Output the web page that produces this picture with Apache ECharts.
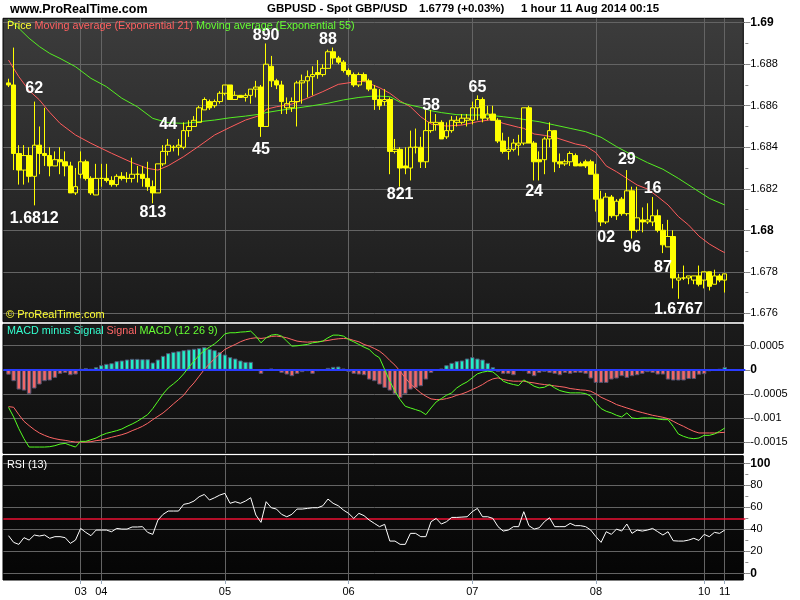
<!DOCTYPE html>
<html><head><meta charset="utf-8">
<script src="https://cdn.jsdelivr.net/npm/echarts@6/dist/echarts.min.js"></script>
<style>html,body{margin:0;padding:0;background:#fff}#c{width:800px;height:600px}</style>
</head><body><div id="c"></div><script>
// ================= DATA =================
const barCount = 140;
const dayLabels   = ['03','04','05','06','07','08','10','11'];
const dayStartBar = [14, 18, 42, 66, 90, 114, 135, 139];

// hourly candles: [open, close, low, high]
const candles = [
[1.6871,1.6870,1.6869,1.6873],[1.6870,1.6837,1.6829,1.6888],[1.6837,1.6829,1.6822,1.6841],[1.6829,1.6836,1.6822,1.6841],[1.6836,1.6826,1.6823,1.6840],
[1.6826,1.6841,1.6812,1.6862],[1.6841,1.6837,1.6827,1.6850],[1.6837,1.6836,1.6831,1.6859],[1.6836,1.6831,1.6826,1.6840],[1.6831,1.6834,1.6831,1.6838],
[1.6834,1.6833,1.6827,1.6840],[1.6833,1.6831,1.6826,1.6838],[1.6831,1.6818,1.6818,1.6833],[1.6818,1.6821,1.6817,1.6830],[1.6827,1.6833,1.6825,1.6838],
[1.6833,1.6825,1.6824,1.6834],[1.6825,1.6818,1.6817,1.6826],[1.6817,1.6825,1.6817,1.6832],[1.6825,1.6825,1.6821,1.6832],[1.6825,1.6824,1.6823,1.6832],
[1.6824,1.6822,1.6821,1.6826],[1.6822,1.6826,1.6821,1.6827],[1.6826,1.6825,1.6824,1.6828],[1.6825,1.6825,1.6823,1.6828],[1.6825,1.6827,1.6823,1.6835],
[1.6827,1.6827,1.6823,1.6831],[1.6827,1.6825,1.6821,1.6831],[1.6825,1.6821,1.6819,1.6833],[1.6821,1.6818,1.6813,1.6824],[1.6818,1.6832,1.6818,1.6832],
[1.6832,1.6838,1.6831,1.6841],[1.6838,1.6841,1.6836,1.6844],[1.6840,1.6840,1.6838,1.6841],[1.6840,1.6841,1.6836,1.6844],[1.6840,1.6848,1.6839,1.6852],
[1.6848,1.6850,1.6845,1.6853],[1.6850,1.6853,1.6850,1.6855],[1.6852,1.6859,1.6852,1.6860],[1.6858,1.6863,1.6858,1.6864],[1.6862,1.6859,1.6858,1.6863],
[1.6860,1.6862,1.6859,1.6863],[1.6862,1.6866,1.6861,1.6867],[1.6866,1.6870,1.6865,1.6870],[1.6870,1.6863,1.6863,1.6870],[1.6863,1.6865,1.6863,1.6867],
[1.6865,1.6864,1.6864,1.6865],[1.6864,1.6865,1.6862,1.6866],[1.6865,1.6868,1.6861,1.6868],[1.6868,1.6869,1.6864,1.6872],[1.6869,1.6850,1.6845,1.6870],
[1.6850,1.6880,1.6850,1.6890],[1.6879,1.6872,1.6869,1.6884],[1.6872,1.6870,1.6868,1.6873],[1.6870,1.6862,1.6856,1.6872],[1.6859,1.6861,1.6856,1.6864],
[1.6859,1.6862,1.6857,1.6864],[1.6862,1.6871,1.6850,1.6872],[1.6871,1.6872,1.6861,1.6875],[1.6872,1.6874,1.6864,1.6877],[1.6874,1.6875,1.6865,1.6879],
[1.6876,1.6875,1.6873,1.6882],[1.6875,1.6878,1.6874,1.6880],[1.6878,1.6886,1.6878,1.6887],[1.6886,1.6883,1.6880,1.6888],[1.6883,1.6881,1.6880,1.6884],
[1.6881,1.6877,1.6876,1.6882],[1.6877,1.6875,1.6874,1.6878],[1.6875,1.6870,1.6869,1.6876],[1.6870,1.6875,1.6869,1.6876],[1.6875,1.6872,1.6872,1.6876],
[1.6872,1.6868,1.6867,1.6873],[1.6868,1.6863,1.6858,1.6870],[1.6863,1.6860,1.6858,1.6868],[1.6862,1.6863,1.6860,1.6868],[1.6863,1.6838,1.6827,1.6864],
[1.6838,1.6839,1.6837,1.6844],[1.6839,1.6830,1.6821,1.6840],[1.6831,1.6830,1.6827,1.6840],[1.6830,1.6840,1.6824,1.6848],[1.6840,1.6840,1.6837,1.6849],
[1.6840,1.6833,1.6830,1.6845],[1.6833,1.6848,1.6830,1.6858],[1.6848,1.6852,1.6847,1.6858],[1.6851,1.6852,1.6848,1.6856],[1.6852,1.6844,1.6844,1.6853],
[1.6845,1.6848,1.6844,1.6852],[1.6848,1.6853,1.6847,1.6855],[1.6852,1.6853,1.6850,1.6855],[1.6852,1.6854,1.6851,1.6856],[1.6853,1.6854,1.6850,1.6856],
[1.6853,1.6859,1.6851,1.6862],[1.6859,1.6863,1.6853,1.6865],[1.6863,1.6854,1.6852,1.6864],[1.6854,1.6856,1.6853,1.6860],[1.6856,1.6853,1.6853,1.6860],
[1.6853,1.6843,1.6842,1.6854],[1.6843,1.6838,1.6837,1.6847],[1.6838,1.6839,1.6834,1.6845],[1.6839,1.6842,1.6838,1.6844],[1.6841,1.6842,1.6836,1.6846],
[1.6842,1.6859,1.6841,1.6859],[1.6859,1.6842,1.6842,1.6860],[1.6842,1.6833,1.6824,1.6843],[1.6834,1.6833,1.6824,1.6838],[1.6834,1.6844,1.6827,1.6845],
[1.6844,1.6848,1.6840,1.6852],[1.6848,1.6833,1.6828,1.6848],[1.6833,1.6832,1.6830,1.6837],[1.6832,1.6833,1.6831,1.6834],[1.6833,1.6837,1.6831,1.6838],
[1.6836,1.6831,1.6831,1.6837],[1.6832,1.6831,1.6831,1.6833],[1.6833,1.6831,1.6830,1.6834],[1.6833,1.6827,1.6827,1.6834],[1.6827,1.6815,1.6809,1.6832],
[1.6815,1.6804,1.6802,1.6819],[1.6804,1.6816,1.6803,1.6818],[1.6816,1.6807,1.6806,1.6817],[1.6807,1.6814,1.6805,1.6815],[1.6815,1.6808,1.6807,1.6816],
[1.6808,1.6819,1.6807,1.6829],[1.6819,1.6800,1.6796,1.6821],[1.6800,1.6806,1.6799,1.6821],[1.6805,1.6804,1.6799,1.6811],[1.6804,1.6805,1.6803,1.6813],
[1.6804,1.6807,1.6802,1.6816],[1.6807,1.6800,1.6799,1.6810],[1.6800,1.6793,1.6789,1.6803],[1.6792,1.6797,1.6792,1.6805],[1.6797,1.6777,1.6772,1.6800],
[1.6776,1.6777,1.6767,1.6779],[1.6777,1.6777,1.6776,1.6783],[1.6777,1.6778,1.6774,1.6778],[1.6776,1.6778,1.6774,1.6778],[1.6778,1.6774,1.6773,1.6783],
[1.6776,1.6780,1.6772,1.6780],[1.6780,1.6773,1.6771,1.6780],[1.6774,1.6778,1.6774,1.6781],[1.6778,1.6776,1.6775,1.6779],[1.6776,1.6779,1.6770,1.6779]
];

// Exponential moving averages read at these bars
const ema21Bar = [0,2,4,6,8,10,13,16,20,24,27,29,31,34,37,40,43,46,49,50,52,55,58,61,64,67,69,72,74,76,78,80,82,85,88,91,94,96,99,100,102,104,106,108,110,112,114,116,118,120,122,124,126,128,130,132,134,136,138,139];
const ema21Val = [1.68820,1.68740,1.68673,1.68628,1.68568,1.68515,1.68459,1.68419,1.68371,1.68326,1.68298,1.68290,1.68311,1.68355,1.68406,1.68459,1.68496,1.68531,1.68555,1.68583,
1.68595,1.68608,1.68636,1.68668,1.68703,1.68714,1.68718,1.68687,1.68660,1.68623,1.68595,1.68547,1.68512,1.68502,1.68507,1.68523,1.68534,1.68515,1.68496,1.68491,
1.68464,1.68457,1.68448,1.68432,1.68416,1.68406,1.68374,1.68310,1.68282,1.68250,1.68218,1.68199,1.68162,1.68122,1.68066,1.68025,1.67972,1.67934,1.67905,1.67892];
const ema55Bar = [0,1,2,4,6,8,10,13,16,19,22,25,28,31,34,37,40,43,46,49,50,53,56,59,62,65,68,71,74,76,78,80,82,84,87,90,93,96,99,100,103,106,109,112,115,118,121,124,127,130,133,136,139];
const ema55Val = [1.69015,1.68997,1.68973,1.68925,1.68885,1.68852,1.68828,1.68788,1.68732,1.68692,1.68636,1.68595,1.68539,1.68518,1.68515,1.68523,1.68531,1.68542,1.68550,1.68560,
1.68567,1.68579,1.68589,1.68600,1.68612,1.68628,1.68640,1.68647,1.68644,1.68617,1.68603,1.68592,1.68576,1.68567,1.68557,1.68555,1.68555,1.68547,1.68538,1.68534,
1.68523,1.68507,1.68491,1.68475,1.68448,1.68403,1.68363,1.68326,1.68294,1.68250,1.68202,1.68154,1.68122];

// MACD (12 26 9)
const macdLine = [
-0.000775,-0.000975,-0.001217,-0.001425,-0.001598,-0.001598,-0.001598,-0.001598,-0.001591,-0.001570,
-0.001536,-0.001522,-0.001563,-0.001598,-0.001480,-0.001480,-0.001446,-0.001411,-0.001356,-0.001314,
-0.001287,-0.001259,-0.001224,-0.001169,-0.001121,-0.001065,-0.000996,-0.000927,-0.000802,-0.000650,
-0.000498,-0.000374,-0.000291,-0.000201,-0.000083,0.000055,0.000180,0.000304,0.000401,0.000470,
0.000539,0.000629,0.000747,0.000768,0.000768,0.000782,0.000788,0.000802,0.000699,0.000560,
0.000664,0.000719,0.000733,0.000699,0.000595,0.000491,0.000498,0.000512,0.000526,0.000560,
0.000574,0.000595,0.000664,0.000719,0.000719,0.000699,0.000629,0.000581,0.000526,0.000470,
0.000422,0.000318,0.000249,0.000007,-0.000235,-0.000443,-0.000616,-0.000754,-0.000789,-0.000823,
-0.000858,-0.000927,-0.000789,-0.000664,-0.000595,-0.000526,-0.000477,-0.000374,-0.000304,-0.000249,
-0.000166,-0.000083,-0.000048,-0.000028,-0.000042,-0.000131,-0.000235,-0.000277,-0.000304,-0.000325,
-0.000208,-0.000270,-0.000339,-0.000374,-0.000360,-0.000304,-0.000374,-0.000429,-0.000457,-0.000477,
-0.000477,-0.000477,-0.000491,-0.000546,-0.000685,-0.000802,-0.000858,-0.000892,-0.000941,-0.000975,
-0.000892,-0.000996,-0.001010,-0.000996,-0.000996,-0.000996,-0.001017,-0.001031,-0.001031,-0.001169,
-0.001328,-0.001377,-0.001411,-0.001425,-0.001411,-0.001356,-0.001356,-0.001328,-0.001273,-0.001204];
const macdSignal = [
-0.000761,-0.000775,-0.000927,-0.001065,-0.001155,-0.001238,-0.001307,-0.001356,-0.001397,-0.001425,
-0.001446,-0.001460,-0.001480,-0.001494,-0.001494,-0.001494,-0.001487,-0.001466,-0.001453,-0.001425,
-0.001397,-0.001370,-0.001342,-0.001307,-0.001259,-0.001217,-0.001169,-0.001107,-0.001031,-0.000961,
-0.000892,-0.000802,-0.000706,-0.000616,-0.000526,-0.000387,-0.000270,-0.000131,0.000007,0.000124,
0.000235,0.000332,0.000422,0.000477,0.000526,0.000581,0.000622,0.000650,0.000664,0.000650,
0.000664,0.000692,0.000699,0.000685,0.000664,0.000629,0.000595,0.000581,0.000574,0.000581,
0.000581,0.000595,0.000609,0.000629,0.000643,0.000650,0.000643,0.000609,0.000581,0.000526,
0.000491,0.000443,0.000387,0.000304,0.000194,0.000097,-0.000028,-0.000166,-0.000291,-0.000387,
-0.000477,-0.000546,-0.000602,-0.000616,-0.000616,-0.000595,-0.000567,-0.000526,-0.000498,-0.000457,
-0.000408,-0.000360,-0.000304,-0.000235,-0.000187,-0.000166,-0.000201,-0.000221,-0.000235,-0.000235,
-0.000235,-0.000256,-0.000270,-0.000291,-0.000304,-0.000318,-0.000332,-0.000346,-0.000360,-0.000387,
-0.000401,-0.000415,-0.000422,-0.000443,-0.000498,-0.000567,-0.000616,-0.000664,-0.000719,-0.000754,
-0.000789,-0.000823,-0.000858,-0.000885,-0.000913,-0.000941,-0.000961,-0.000982,-0.001010,-0.001065,
-0.001121,-0.001169,-0.001224,-0.001273,-0.001307,-0.001307,-0.001307,-0.001307,-0.001300,-0.001294];
const macdHist = [
-0.000100,-0.000235,-0.000408,-0.000429,-0.000498,-0.000387,-0.000304,-0.000235,-0.000221,-0.000166,
-0.000083,-0.000062,-0.000111,-0.000097,0.000021,0.000035,0.000021,0.000055,0.000097,0.000124,
0.000138,0.000180,0.000194,0.000214,0.000228,0.000228,0.000221,0.000221,0.000152,0.000214,
0.000290,0.000346,0.000373,0.000387,0.000408,0.000422,0.000436,0.000450,0.000470,0.000436,
0.000408,0.000367,0.000318,0.000263,0.000235,0.000194,0.000166,0.000166,0.000014,-0.000083,
0.000014,0.000028,0.000007,-0.000062,-0.000097,-0.000131,-0.000083,-0.000048,-0.000028,-0.000083,
-0.000028,0.000000,0.000041,0.000062,0.000069,0.000028,-0.000042,-0.000083,-0.000097,-0.000111,
-0.000201,-0.000235,-0.000304,-0.000374,-0.000429,-0.000498,-0.000581,-0.000498,-0.000408,-0.000374,
-0.000339,-0.000201,-0.000062,-0.000014,0.000028,0.000097,0.000145,0.000180,0.000194,0.000235,
0.000263,0.000235,0.000214,0.000145,0.000055,-0.000042,-0.000083,-0.000083,-0.000111,0.000007,
-0.000028,-0.000083,-0.000131,-0.000062,-0.000042,-0.000062,-0.000083,-0.000111,-0.000062,-0.000083,
-0.000062,-0.000062,-0.000083,-0.000180,-0.000270,-0.000270,-0.000270,-0.000201,-0.000180,-0.000131,
-0.000166,-0.000131,-0.000111,-0.000083,-0.000048,-0.000062,-0.000097,-0.000097,-0.000201,-0.000221,
-0.000221,-0.000220,-0.000190,-0.000190,-0.000100,-0.000090,-0.000030,0.000005,0.000020,0.000060];

// RSI (13)
const rsi13 = [
34.2,28.1,26.3,32.4,30.2,34.8,33.9,34.8,31.8,33.3,
33.3,32.4,27.2,30.2,40.8,37.2,34.2,39.3,39.3,39.3,
37.8,40.8,40.2,40.2,42.1,42.1,42.4,37.2,35.4,48.4,
53.6,56.6,56.6,56.6,62.7,63.6,65.7,69.6,71.7,66.6,
68.7,71.1,72.7,63.6,65.1,63.6,65.7,68.7,53.0,46.3,
65.1,59.6,58.4,53.6,51.4,53.6,58.4,58.4,59.0,59.6,
59.6,61.4,67.5,63.6,61.4,57.5,54.5,49.9,54.5,52.4,
48.4,45.4,42.4,44.5,29.3,29.3,26.3,26.3,36.3,36.3,
33.3,33.3,46.9,49.9,44.8,46.9,50.8,50.8,51.1,51.4,
56.0,59.0,51.4,51.4,49.9,42.4,38.4,39.3,42.4,42.4,
56.0,43.3,40.2,41.4,46.9,50.5,42.4,42.4,42.4,45.4,
43.3,43.3,42.4,39.3,33.3,28.1,37.8,35.4,40.2,38.4,
44.8,36.3,39.3,38.4,39.3,40.8,37.8,34.8,37.8,29.6,
29.3,29.3,30.2,31.8,29.9,35.4,33.3,37.2,36.3,39.3];

// price annotations (text, bar, price level of the text)
const annText  = ['62','1.6812','813','44','890','45','88','821','58','65','24','29','16','02','96','87','1.6767'];
const annBar   = [5,5,28,31,50,49,62,76,82,91,102,120,125,116,121,127,130];
const annPrice = [1.68681,1.68054,1.68083,1.68507,1.68936,1.68387,1.68921,1.68172,1.68603,1.68685,1.68184,1.68341,1.68199,1.67967,1.67915,1.67818,1.67618];

// ================= BUILD =================
const PAD_BEFORE = 1, PAD_AFTER = 4;
const categories = [];
for (let i = 0; i < PAD_BEFORE; i++) categories.push('');
for (let b = 0; b < barCount; b++) { const k = dayStartBar.indexOf(b); categories.push(k >= 0 ? dayLabels[k] : ''); }
for (let i = 0; i < PAD_AFTER; i++) categories.push('');
const pad = v => { const a = []; for (let i = 0; i < PAD_BEFORE; i++) a.push(v); return a; };
const isDay = (i, v) => v !== '';

const FONT = '"Liberation Sans", Arial, sans-serif';
const GL = 3.35, GW = 742.0;
const GRID_LINE = '#646464';

const xBase = (gi) => ({ type:'category', gridIndex: gi, data: categories, boundaryGap: false });
const hiddenX = gi => Object.assign(xBase(gi), { show: false });
const bgX = (gi, withLabels) => Object.assign(xBase(gi), {
  axisLine: { show: false },
  axisTick: { show: withLabels, interval: isDay, length: 4, lineStyle: { color: '#9aaabb' } },
  axisLabel: { show: withLabels, interval: isDay, color: '#000', fontSize: 11, fontFamily: FONT, margin: 6 },
  splitLine: { show: true, interval: isDay, lineStyle: { color: GRID_LINE, width: 1 } }
});
const valueY = (gi, min, max, interval, fmt, minor) => ({
  type: 'value', gridIndex: gi, position: 'right', min, max, interval,
  axisLine: { show: false },
  axisTick: { show: true, length: 5, lineStyle: { color: '#8a8a8a' } },
  minorTick: { show: !!minor, splitNumber: 2, length: 3, lineStyle: { color: '#8a8a8a' } },
  axisLabel: { color: '#000', fontSize: 11, fontFamily: FONT, margin: 5, formatter: fmt,
    rich: { b: { fontWeight: 'bold', fontSize: 12, fontFamily: FONT, color: '#000' } } },
  splitLine: { show: true, lineStyle: { color: GRID_LINE, width: 1 } }
});
const hiddenY = gi => ({ type: 'value', gridIndex: gi, show: false, min: 0, max: 1, splitLine: { show: false } });

const priceFmt = v => { const s = String(+v.toFixed(4)); return Math.abs(v * 100 - Math.round(v * 100)) < 1e-6 ? '{b|' + s + '}' : s; };
const macdFmt = v => Math.abs(v) < 1e-9 ? '{b|0}' : String(+v.toFixed(4));
const rsiFmt = v => (v === 0 || v === 100) ? '{b|' + v + '}' : String(v);

const panelRect = (y, h, c1, c2) => ({
  type: 'rect', z: -10, silent: true,
  shape: { x: 3, y: y, width: 740.3, height: h },
  style: { fill: { type: 'linear', x: 0, y: 0, x2: 0, y2: 1, colorStops: [{ offset: 0, color: c1 }, { offset: 1, color: c2 }] },
           stroke: '#000', lineWidth: 1 }
});
const txt = (x, y, text, font, fill, rich) => ({
  type: 'text', x, y, z: 50, silent: true,
  style: { text, font, fill, rich, verticalAlign: 'middle', textVerticalAlign: 'middle' }
});

const option = {
  animation: false,
  backgroundColor: '#ffffff',
  grid: [
    { left: GL, width: GW, top: 22.7, height: 290.6 },
    { left: GL, width: GW, top: 345.7, height: 96.6 },
    { left: GL, width: GW, top: 463.3, height: 110 },
    { left: GL, width: GW, top: 18.3, height: 303.4 },
    { left: GL, width: GW, top: 324.3, height: 129 },
    { left: GL, width: GW, top: 455.7, height: 124.3 }
  ],
  xAxis: [hiddenX(0), hiddenX(1), hiddenX(2), bgX(3, false), bgX(4, false), bgX(5, true)],
  yAxis: [
    valueY(0, 1.676, 1.69, 0.002, priceFmt, true),
    valueY(1, -0.0015, 0.0005, 0.0005, macdFmt, false),
    valueY(2, 0, 100, 20, rsiFmt, true),
    hiddenY(3), hiddenY(4), hiddenY(5)
  ],
  graphic: { elements: [
    panelRect(18.3, 303.4, '#3c3c3c', '#1a1a1a'),
    panelRect(324.3, 129, '#1b1b1b', '#0e0e0e'),
    panelRect(455.7, 124.3, '#0f0f0f', '#050505'),
    txt(10, 9.5, 'www.ProRealTime.com', 'bold 12.5px ' + FONT, '#000'),
    txt(267, 9, 'GBPUSD - Spot GBP/USD', 'bold 11.5px ' + FONT, '#000'),
    txt(419, 9, '1.6779 (+0.03%)', 'bold 11.5px ' + FONT, '#000'),
    txt(521, 9, '1 hour', 'bold 11.5px ' + FONT, '#000'),
    txt(560, 9, '11 Aug 2014 00:15', 'bold 11.5px ' + FONT, '#000'),
    txt(7, 26, '{y|Price} {r|Moving average (Exponential 21)} {g|Moving average (Exponential 55)}', '10.8px ' + FONT, '#fff',
      { y: { fill: '#ffff33', font: '10.8px ' + FONT }, r: { fill: '#ff6060', font: '10.8px ' + FONT }, g: { fill: '#66ff33', font: '10.8px ' + FONT } }),
    txt(6, 315, '\u00A9 ProRealTime.com', '11px ' + FONT, '#ffff33'),
    txt(7, 331.5, '{c|MACD minus Signal} {r|Signal} {g|MACD (12 26 9)}', '10.8px ' + FONT, '#fff',
      { c: { fill: '#33ffd0', font: '10.8px ' + FONT }, r: { fill: '#ff6666', font: '10.8px ' + FONT }, g: { fill: '#66ff33', font: '10.8px ' + FONT } }),
    txt(7, 465, 'RSI (13)', '10.8px ' + FONT, '#ffffff')
  ]},
  series: [
    { name: 'Price', type: 'candlestick', xAxisIndex: 0, yAxisIndex: 0, clip: false, barWidth: 5, z: 5,
      data: pad(['-','-','-','-']).concat(candles),
      itemStyle: { color: 'rgba(0,0,0,0)', color0: '#ffff00', borderColor: '#ffff00', borderColor0: '#ffff00', borderWidth: 1 } },
    { name: 'EMA21', type: 'line', xAxisIndex: 0, yAxisIndex: 0, clip: false, symbol: 'none', z: 4,
      data: ema21Bar.map((b, j) => [b + PAD_BEFORE, ema21Val[j]]), lineStyle: { color: '#ff5c5c', width: 1 } },
    { name: 'EMA55', type: 'line', xAxisIndex: 0, yAxisIndex: 0, clip: false, symbol: 'none', z: 4,
      data: ema55Bar.map((b, j) => [b + PAD_BEFORE, ema55Val[j]]), lineStyle: { color: '#55ee22', width: 1 } },
    { name: 'labels', type: 'scatter', xAxisIndex: 0, yAxisIndex: 0, clip: false, symbolSize: 1, z: 10,
      itemStyle: { color: '#ffffff', opacity: 1 }, silent: true,
      data: annBar.map((b, j) => [b + PAD_BEFORE, annPrice[j]]),
      label: { show: true, position: 'inside', formatter: p => annText[p.dataIndex], color: '#ffffff', opacity: 1,
               textBorderWidth: 0, textBorderColor: 'transparent', textShadowBlur: 0,
               fontSize: 16, fontWeight: 'bold', fontFamily: FONT } },
    { name: 'MACD minus Signal', type: 'bar', xAxisIndex: 1, yAxisIndex: 1, clip: false, barWidth: 4.5, z: 3,
      data: pad('-').concat(macdHist),
      itemStyle: { color: p => p.value >= 0 ? '#22f0c8' : '#f06868',
                   borderColor: p => p.value >= 0 ? '#12b898' : '#c04444', borderWidth: 1 },
      markLine: { silent: true, symbol: 'none', label: { show: false }, animation: false,
                  lineStyle: { color: '#2a3cff', width: 2, type: 'solid' }, data: [{ yAxis: 0 }] } },
    { name: 'Signal', type: 'line', xAxisIndex: 1, yAxisIndex: 1, clip: false, symbol: 'none', z: 4,
      data: pad('-').concat(macdSignal), lineStyle: { color: '#ff6666', width: 1 } },
    { name: 'MACD', type: 'line', xAxisIndex: 1, yAxisIndex: 1, clip: false, symbol: 'none', z: 5,
      data: pad('-').concat(macdLine), lineStyle: { color: '#55ff22', width: 1 } },
    { name: 'RSI (13)', type: 'line', xAxisIndex: 2, yAxisIndex: 2, clip: false, symbol: 'none', z: 5,
      data: pad('-').concat(rsi13), lineStyle: { color: '#ffffff', width: 1 },
      markLine: { silent: true, symbol: 'none', label: { show: false }, animation: false,
                  lineStyle: { color: '#ee1133', width: 1.5, type: 'solid' }, data: [{ yAxis: 50 }] } }
  ]
};
const chart = echarts.init(document.getElementById('c'), null, { renderer: 'canvas' });
chart.setOption(option);
</script></body></html>
